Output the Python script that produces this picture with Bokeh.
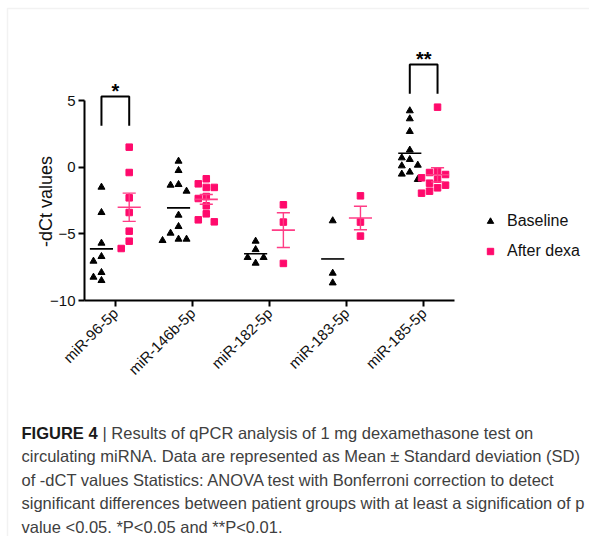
import math
import numpy as np
from bokeh.plotting import figure
from bokeh.models import (FixedTicker, Label, Legend, LegendItem, BoxAnnotation,
                          ColumnDataSource, Range1d)
from bokeh.embed import file_html
from bokeh.resources import INLINE

# ---------------- data ----------------
categories = ["miR-96-5p", "miR-146b-5p", "miR-182-5p", "miR-183-5p", "miR-185-5p"]

baseline_96 = [-1.5, -3.4, -5.7, -6.7, -7.05, -7.9, -8.25, -8.5]
baseline_146b = [0.45, -0.25, -1.3, -1.35, -1.8, -3.6, -4.45, -4.95, -5.4, -5.4, -5.5]
baseline_182 = [-5.55, -6.18, -6.77, -6.77, -7.2]
baseline_183 = [-4.02, -7.95, -8.68]
baseline_185 = [4.23, 3.63, 2.68, 1.28, 0.7, 0.58, 0.15, 0.1, -0.37, -0.52, -0.92]

dexa_96 = [1.5, -0.4, -2.3, -3.4, -4.8, -5.55, -6.1]
dexa_146b = [-0.87, -1.25, -1.52, -1.52, -2.2, -2.35, -2.9, -3.5, -3.95, -4.1]
dexa_182 = [-2.82, -4.12, -7.22]
dexa_183 = [-2.15, -4.12, -5.17]
dexa_185 = [4.5, -0.3, -0.4, -0.55, -0.8, -0.9, -1.2, -1.35, -1.55, -1.8, -1.95]

baseline = [baseline_96, baseline_146b, baseline_182, baseline_183, baseline_185]
after_dexa = [dexa_96, dexa_146b, dexa_182, dexa_183, dexa_185]

significance = ["*", None, None, None, "**"]
y_ticks = [-10, -5, 0, 5]

caption_bold = "FIGURE 4"
caption_lines = [
    "| Results of qPCR analysis of 1 mg dexamethasone test on",
    "circulating miRNA. Data are represented as Mean \u00b1 Standard deviation (SD)",
    "of -dCT values Statistics: ANOVA test with Bonferroni correction to detect",
    "significant differences between patient groups with at least a signification of p",
    "value <0.05. *P<0.05 and **P<0.01.",
]

# ---------------- layout ----------------
W, H = 589, 536
AX_L, AX_R = 84, 454          # x-axis line extent (page px)
Y5, YM10 = 100, 300           # page px of y = 5 and y = -10
xpx = (AX_R - AX_L) / 4.8     # px per category unit (axis spans -0.4..4.4)
ypx = (YM10 - Y5) / 15.0      # px per y unit
x0 = -0.4 - AX_L / xpx
XR = (x0, x0 + W / xpx)
ytop = 5 + Y5 / ypx
YR = (ytop - H / ypx, ytop)

PINK = "#ff0a6c"
PINK_LINE = "#ff3d86"
FONT = "Liberation Sans"
GOFF = 0.18       # group offset from category centre


def swarm(vals, d=8.0):
    placed, offs = [], []
    cands = [0.0] + [s * i * d for i in range(1, 7) for s in (-1, 1)]
    for v in vals:
        y = v * ypx
        for c in cands:
            if all(abs(c - px) >= d or abs(y - py) >= d for px, py in placed):
                break
        placed.append((c, y))
        offs.append(c / xpx)
    return offs


def build(groups, sign):
    xs, ys = [], []
    for i, vals in enumerate(groups):
        offs = swarm(vals)
        for v, o in zip(vals, offs):
            xs.append(i + sign * GOFF + o)
            ys.append(v)
    return ColumnDataSource(dict(x=xs, y=ys))


p = figure(width=W, height=H, x_range=Range1d(*XR), y_range=Range1d(*YR),
           min_border=0, min_border_left=0, min_border_right=0, min_border_top=0,
           min_border_bottom=0, output_backend="svg", toolbar_location=None)
p.background_fill_color = "white"
p.border_fill_color = "white"
p.outline_line_color = None
p.grid.visible = False

src_b = build(baseline, -1)
src_d = build(after_dexa, +1)

r_b = p.scatter("x", "y", source=src_b, marker="triangle", size=7,
                fill_color="black", line_color="black")
r_d = p.scatter("x", "y", source=src_d, marker="square", size=6.5,
                fill_color=PINK, line_color=PINK)

# means / SEM
mb = [float(np.mean(v)) for v in baseline]
md = [float(np.mean(v)) for v in after_dexa]
sd = [float(np.std(v, ddof=1) / math.sqrt(len(v))) for v in after_dexa]
idx = np.arange(len(categories))
p.segment(x0=idx - GOFF - 0.15, x1=idx - GOFF + 0.15, y0=mb, y1=mb,
          line_color="black", line_width=1.6)
p.segment(x0=idx + GOFF - 0.15, x1=idx + GOFF + 0.15, y0=md, y1=md,
          line_color=PINK_LINE, line_width=1.6)
p.segment(x0=idx + GOFF, x1=idx + GOFF, y0=np.array(md) - sd, y1=np.array(md) + sd,
          line_color=PINK_LINE, line_width=1.4)
for lvl in (-1, 1):
    yy = np.array(md) + lvl * np.array(sd)
    p.segment(x0=idx + GOFF - 0.085, x1=idx + GOFF + 0.085, y0=yy, y1=yy,
              line_color=PINK_LINE, line_width=1.4)

# significance brackets
for i, s in enumerate(significance):
    if not s:
        continue
    top = max(max(baseline[i]), max(after_dexa[i]))
    ybr = 5.3 if top < 3 else 7.7
    yleg = ybr - 2.2
    p.line(x=[i - GOFF, i - GOFF, i + GOFF, i + GOFF], y=[yleg, ybr, ybr, yleg],
           line_color="black", line_width=2)
    p.add_layout(Label(x=i, y=ybr + 0.4, text=s, text_align="center",
                       text_baseline="middle", text_font=FONT, text_font_size="20px",
                       text_font_style="bold", text_color="black"))

# axes (drawn at fixed data locations inside a full-canvas frame)
ya = p.yaxis[0]
ya.fixed_location = -0.4
ya.bounds = (-10, 5)
ya.ticker = FixedTicker(ticks=y_ticks)
ya.major_label_text_font = FONT
ya.major_label_text_font_size = "15px"
ya.major_label_text_color = "#111111"
ya.major_label_standoff = 3

xa = p.xaxis[0]
xa.fixed_location = -10
xa.bounds = (-0.4, 4.4)
xa.ticker = FixedTicker(ticks=list(range(len(categories))))
xa.major_label_overrides = {i: c for i, c in enumerate(categories)}
xa.major_label_orientation = math.pi / 4
xa.major_label_text_font = FONT
xa.major_label_text_font_size = "15px"
xa.major_label_text_color = "#111111"
xa.major_label_standoff = 4

for ax in (xa, ya):
    ax.axis_line_width = 2
    ax.axis_line_color = "black"
    ax.major_tick_line_width = 2
    ax.major_tick_line_color = "black"
    ax.major_tick_in = 0
    ax.major_tick_out = 6
    ax.minor_tick_line_color = None

# y-axis title, centred on the drawn axis line
p.add_layout(Label(x=45, y=H - 201, x_units="screen", y_units="screen",
                   text="-dCt values", angle=math.pi / 2, text_align="center",
                   text_baseline="middle", text_font=FONT, text_font_size="18px",
                   text_color="#111111"))

# legend
legend = Legend(items=[LegendItem(label="Baseline", renderers=[r_b]),
                       LegendItem(label="After dexa", renderers=[r_d])],
                location=(482, H - 260), glyph_width=16, glyph_height=16,
                label_height=16, label_standoff=9, spacing=12, padding=0, margin=0,
                border_line_color=None, background_fill_alpha=0,
                label_text_font=FONT, label_text_font_size="16px",
                label_text_color="#111111")
p.add_layout(legend)

# page border (light grey, top and left)
p.add_layout(BoxAnnotation(left=7, right=W + 20, top=H - 8, bottom=-20,
                           left_units="screen", right_units="screen",
                           top_units="screen", bottom_units="screen",
                           fill_alpha=0, line_color="#d4d4d4", line_width=1.5))

# caption
CX = 21
CFS = "16.5px"
p.add_layout(Label(x=CX, y=H - 432, x_units="screen", y_units="screen",
                   text=caption_bold, text_baseline="middle", text_font=FONT,
                   text_font_size=CFS, text_font_style="bold", text_color="#1a1a1a"))
for k, line in enumerate(caption_lines):
    xx = 102 if k == 0 else CX
    p.add_layout(Label(x=xx, y=H - (432 + 23.5 * k), x_units="screen", y_units="screen",
                       text=line, text_baseline="middle", text_font=FONT,
                       text_font_size=CFS, text_color="#404040"))

open("out.html", "w").write(file_html(p, INLINE))
